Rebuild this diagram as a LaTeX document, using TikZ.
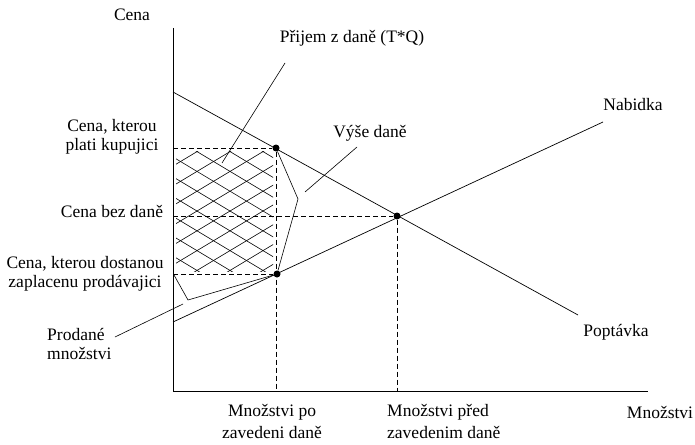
\documentclass[tikz,border=0pt]{standalone}
\usepackage{fontspec}
\setmainfont{Liberation Serif}
\begin{document}
\begin{tikzpicture}[x=1pt,y=-1pt,
  lbl/.style={inner sep=0pt,font=\fontsize{17.5}{19}\selectfont},
  curve/.style={line width=0.7pt},
  axis/.style={line width=0.9pt},
  guide/.style={dashed,line width=0.7pt,dash pattern=on 5pt off 3pt},
  ptr/.style={line width=0.6pt},
  hatch/.style={line width=0.6pt},
  dot/.style={circle,fill=black,inner sep=0pt,minimum size=7pt}]
\useasboundingbox (0,0) rectangle (695,444);
% key points
\coordinate (O) at (173,391);
\coordinate (Ytop) at (173,28);
\coordinate (Xend) at (648,391);
\coordinate (D0) at (173,92);
\coordinate (D1) at (578,315);
\coordinate (S0) at (173,322);
\coordinate (S1) at (603,122);
\node[dot] (Pb) at (276,148) {};
\node[dot] (Ps) at (277,274) {};
\node[dot] (E) at (397,216) {};
\coordinate (Lb) at (173,148);
\coordinate (Le) at (173,216);
\coordinate (Ls) at (173,274);
\coordinate (Qt) at (276,391);
\coordinate (Qe) at (397,391);
% hatch
\begin{scope}
\clip (176,151) rectangle (273,271);
\foreach \k in {0,...,12} {
  \draw[hatch] ({-40+\k*33},148) -- ++(230,138);
  \draw[hatch] ({-40+\k*33},274) -- ++(230,-138);
}
\end{scope}
% axes
\draw[axis] (Ytop) -- (O) -- (Xend);
% curves
\draw[curve] (D0) -- (D1);
\draw[curve] (S0) -- (S1);
% guides
\draw[guide] (Lb) -- (Pb);
\draw[guide] (Le) -- (E);
\draw[guide] (Ls) -- (Ps);
\draw[guide] (Pb) -- (Qt);
\draw[guide] (E) -- (Qe);
% brackets
\coordinate (Tb) at (298,199);
\draw[ptr] (Pb) -- (Tb) -- (Ps);
\coordinate (Qb0) at (174,275);
\coordinate (Qb) at (188,300);
\draw[ptr] (Qb0) -- (Qb) -- (Ps);
% labels
\node[lbl] (cena) at (132,15) {Cena};
\node[lbl] (prijem) at (352,38) {Přijem z daně (T*Q)};
\node[lbl] (vyse) at (370,133) {Výše daně};
\node[lbl] (nab) at (633,105) {Nabidka};
\node[lbl] (popt) at (616,332) {Poptávka};
\node[lbl,align=center] (plb) at (112,137) {Cena, kterou\\plati kupujici};
\node[lbl] (pe) at (112,211) {Cena bez daně};
\node[lbl,align=center] (pls) at (85,274) {Cena, kterou dostanou\\zaplacenu prodávajici};
\node[lbl,align=left,anchor=west] (prod) at (47,344) {Prodané\\množstvi};
\node[lbl,align=center,font=\fontsize{17.5}{22}\selectfont] (qt) at (272,421) {Množstvi po\\zavedeni daně};
\node[lbl,align=left,anchor=west,font=\fontsize{17.5}{22}\selectfont] (qe) at (387,421) {Množstvi před\\zavedenim daně};
\node[lbl] (mn) at (660,412) {Množstvi};
% pointers
\coordinate (p1a) at (285,63);
\coordinate (p1b) at (222,163);
\draw[ptr] (p1a) -- (p1b);
\coordinate (p2a) at (357,147);
\coordinate (p2b) at (305,192);
\draw[ptr] (p2a) -- (p2b);
\coordinate (p3a) at (183,304);
\coordinate (p3b) at (115,337);
\draw[ptr] (p3a) -- (p3b);
\end{tikzpicture}
\end{document}
